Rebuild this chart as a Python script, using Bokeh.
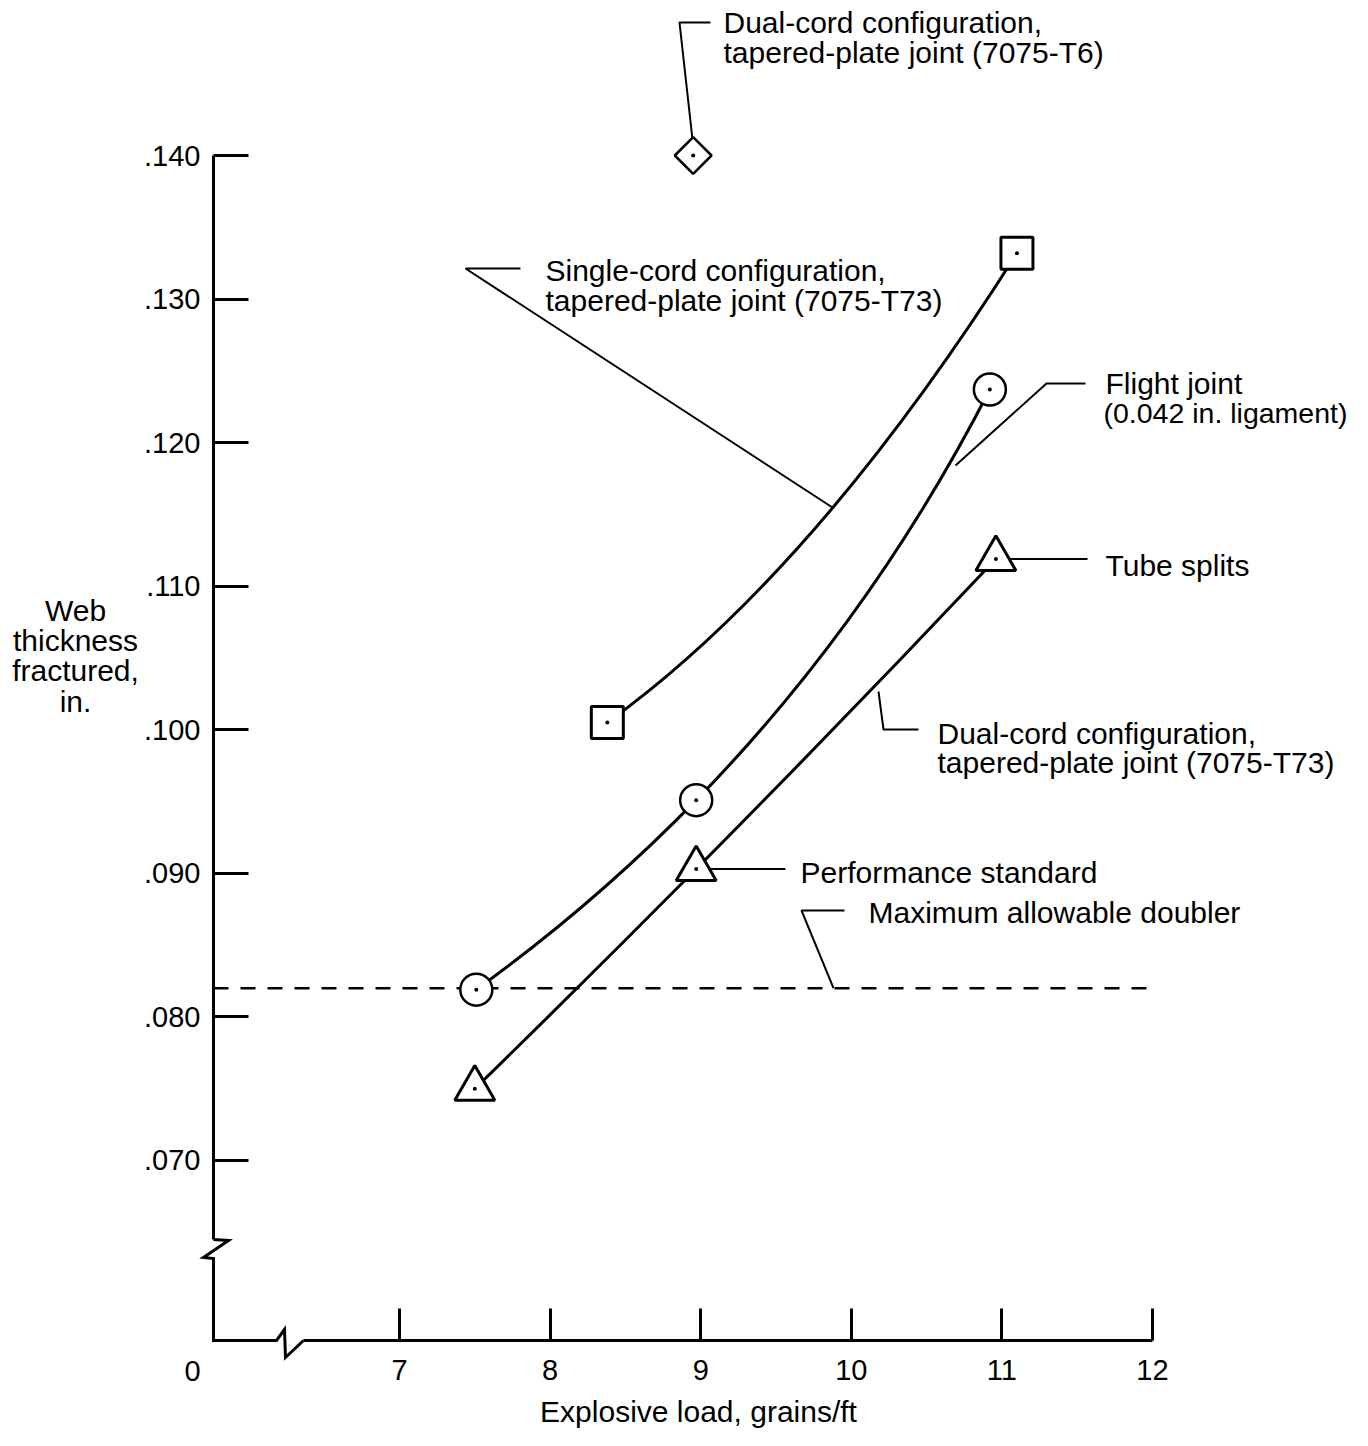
import math
from bokeh.plotting import figure
from bokeh.models import Range1d, LinearAxis, FixedTicker, AllLabels, CustomJSTickFormatter
from bokeh.core.properties import value
from bokeh.embed import file_html
from bokeh.resources import INLINE

# ---------------- data ----------------
x_ticks = [7, 8, 9, 10, 11, 12]
x_tick_labels = ["7", "8", "9", "10", "11", "12"]
y_ticks = [0.070, 0.080, 0.090, 0.100, 0.110, 0.120, 0.130, 0.140]
y_tick_labels = [".070", ".080", ".090", ".100", ".110", ".120", ".130", ".140"]

# Single-cord configuration, tapered-plate joint (7075-T73)  (squares)
single_t73_x = [8.38, 11.10]
single_t73_y = [0.1005, 0.1332]
# Flight joint (0.042 in. ligament)  (circles)
flight_x = [7.51, 8.97, 10.92]
flight_y = [0.0819, 0.0951, 0.1237]
# Dual-cord configuration, tapered-plate joint (7075-T73)  (triangles)
dual_t73_x = [7.50, 8.97, 10.96]
dual_t73_y = [0.0750, 0.0903, 0.1119]
# Dual-cord configuration, tapered-plate joint (7075-T6)  (diamond)
dual_t6_x = [8.95]
dual_t6_y = [0.1400]
# Maximum allowable doubler
doubler_y = 0.082
doubler_x_end = 12

# ---------------- layout calibration (picture pixels) ----------------
W, H = 1352, 1430
PX7, PXU = 399.0, 150.6       # pixel x of x=7, px per unit
PY14, PYU = 155.0, 14357.0    # pixel y of y=.140, px per unit


def X(px):
    return 7 + (px - PX7) / PXU


def Y(py):
    return 0.14 - (py - PY14) / PYU


def to_px(x):
    return PX7 + (x - 7) * PXU


def to_py(y):
    return PY14 + (0.14 - y) * PYU


p = figure(width=W, height=H, x_range=Range1d(X(0), X(W)),
           y_range=Range1d(Y(H), Y(0)), x_axis_type=None, y_axis_type=None,
           output_backend="svg", toolbar_location=None, min_border=0)
p.outline_line_color = None
p.background_fill_color = "white"
p.border_fill_color = "white"

FONT = value("Liberation Sans")
AX_X = X(213)
AX_Y = Y(1340)

# ---------------- axes ----------------
yfmt = CustomJSTickFormatter(args=dict(tv=y_ticks, tl=y_tick_labels), code="""
for (let i = 0; i < tv.length; i++) { if (Math.abs(tv[i] - tick) < 1e-9) return tl[i]; }
return "";
""")
xfmt = CustomJSTickFormatter(args=dict(tv=x_ticks, tl=x_tick_labels), code="""
for (let i = 0; i < tv.length; i++) { if (Math.abs(tv[i] - tick) < 1e-9) return tl[i]; }
return "";
""")

yaxis = LinearAxis(fixed_location=AX_X, bounds=(Y(1239), 0.140),
                   ticker=FixedTicker(ticks=y_ticks, minor_ticks=[]), formatter=yfmt,
                   major_label_policy=AllLabels())
xaxis = LinearAxis(fixed_location=AX_Y, bounds=(X(303), 12),
                   ticker=FixedTicker(ticks=x_ticks, minor_ticks=[]), formatter=xfmt,
                   major_label_policy=AllLabels())
for ax, tick_in, stand in ((yaxis, 35, 13), (xaxis, 32, 19)):
    ax.axis_line_width = 3
    ax.axis_line_color = "black"
    ax.major_tick_line_width = 3
    ax.major_tick_line_color = "black"
    ax.major_tick_in = tick_in
    ax.major_tick_out = 0
    ax.minor_tick_line_color = None
    ax.major_label_text_font = "Liberation Sans"
    ax.major_label_text_font_size = "29px"
    ax.major_label_text_color = "black"
    ax.major_label_standoff = stand
p.add_layout(yaxis, "left")
p.add_layout(xaxis, "below")

# axis break decorations
brk = [(213, 1239), (228, 1240), (203, 1257), (213, 1258), (213, 1340),
       (276, 1340), (284, 1329), (285, 1357), (303, 1340)]
p.line([X(a) for a, b in brk], [Y(b) for a, b in brk], line_color="black",
       line_width=3, line_join="miter")

# ---------------- dashed doubler line ----------------
p.line([AX_X, doubler_x_end], [doubler_y, doubler_y], line_color="black",
       line_width=2.5, line_dash="15 12")


# ---------------- smooth curves ----------------
def smooth_segments(xs, ys):
    P = [(to_px(x), to_py(y)) for x, y in zip(xs, ys)]
    (x0, y0), (x1, y1), (x2, y2) = P
    d0 = math.hypot(x1 - x0, y1 - y0)
    d1 = math.hypot(x2 - x1, y2 - y1)
    u0 = ((x1 - x0) / d0, (y1 - y0) / d0)
    u1 = ((x2 - x1) / d1, (y2 - y1) / d1)
    m1 = ((d1 * u0[0] + d0 * u1[0]) / (d0 + d1), (d1 * u0[1] + d0 * u1[1]) / (d0 + d1))
    m0 = (2 * u0[0] - m1[0], 2 * u0[1] - m1[1])
    m2 = (2 * u1[0] - m1[0], 2 * u1[1] - m1[1])
    segs = [
        ((x0, y0), (x0 + m0[0] * d0 / 3, y0 + m0[1] * d0 / 3), (x1 - m1[0] * d0 / 3, y1 - m1[1] * d0 / 3), (x1, y1)),
        ((x1, y1), (x1 + m1[0] * d1 / 3, y1 + m1[1] * d1 / 3), (x2 - m2[0] * d1 / 3, y2 - m2[1] * d1 / 3), (x2, y2)),
    ]
    out = dict(x0=[], y0=[], x1=[], y1=[], cx0=[], cy0=[], cx1=[], cy1=[])
    for a, c0, c1, b in segs:
        out["x0"].append(X(a[0])); out["y0"].append(Y(a[1]))
        out["cx0"].append(X(c0[0])); out["cy0"].append(Y(c0[1]))
        out["cx1"].append(X(c1[0])); out["cy1"].append(Y(c1[1]))
        out["x1"].append(X(b[0])); out["y1"].append(Y(b[1]))
    return out


for xs, ys in ((flight_x, flight_y), (dual_t73_x, dual_t73_y)):
    s = smooth_segments(xs, ys)
    p.bezier(x0=s["x0"], y0=s["y0"], x1=s["x1"], y1=s["y1"],
             cx0=s["cx0"], cy0=s["cy0"], cx1=s["cx1"], cy1=s["cy1"],
             line_color="black", line_width=3)

# two-point single-cord curve: quadratic with a bend (style)
BEND = (0.505, 0.318)
sx0, sx1 = single_t73_x
sy0, sy1 = single_t73_y
p.quadratic(x0=[sx0], y0=[sy0], x1=[sx1], y1=[sy1],
            cx=[sx0 + BEND[0] * (sx1 - sx0)], cy=[sy0 + BEND[1] * (sy1 - sy0)],
            line_color="black", line_width=3)

# ---------------- leader lines ----------------
leaders_px = [
    [(710, 22), (679, 22), (692, 139)],
    [(520, 268), (465, 268), (832, 507)],
    [(1085, 383), (1046, 383), (955, 465)],
    [(918, 729), (883, 729), (878, 691)],
    [(844, 910), (801, 910), (833, to_py(doubler_y))],
]
lx = [[X(a) for a, b in L] for L in leaders_px]
ly = [[Y(b) for a, b in L] for L in leaders_px]
# Tube splits / Performance standard leaders start at their data points
lx.append([dual_t73_x[2], X(1087)]); ly.append([dual_t73_y[2], dual_t73_y[2]])
lx.append([dual_t73_x[1], X(785)]); ly.append([dual_t73_y[1], dual_t73_y[1]])
p.multi_line(lx, ly, line_color="black", line_width=2)

# ---------------- markers ----------------
p.scatter(single_t73_x, single_t73_y, marker="square", size=32, fill_color="white",
          line_color="black", line_width=3)
p.scatter(flight_x, flight_y, marker="circle", size=32, fill_color="white",
          line_color="black", line_width=2.5)
p.scatter(dual_t73_x, dual_t73_y, marker="triangle", size=40, fill_color="white",
          line_color="black", line_width=3)
p.scatter(dual_t6_x, dual_t6_y, marker="square", size=26, angle=math.pi / 4,
          fill_color="white", line_color="black", line_width=2.5)
all_x = single_t73_x + flight_x + dual_t73_x + dual_t6_x
all_y = single_t73_y + flight_y + dual_t73_y + dual_t6_y
p.scatter(all_x, all_y, marker="circle", size=4, fill_color="black", line_color=None)

# ---------------- texts ----------------
ann_text = ["Dual-cord configuration,", "tapered-plate joint (7075-T6)",
            "Single-cord configuration,", "tapered-plate joint (7075-T73)",
            "Flight joint",
            "Tube splits",
            "Dual-cord configuration,", "tapered-plate joint (7075-T73)",
            "Performance standard",
            "Maximum allowable doubler"]
ann_pos = [(723, 22), (723, 52), (545, 270), (545, 300), (1105, 383),
           (1105, 565), (937, 733), (937, 762), (800, 872), (868, 912)]
p.text([X(a) for a, b in ann_pos], [Y(b) for a, b in ann_pos], text=ann_text,
       text_font=FONT, text_font_size=value("30px"), text_color="black",
       text_align="left", text_baseline="middle")
# the widest line sits at the right edge: a touch smaller so it fits
p.text([X(1103)], [Y(412)], text=["(0.042 in. ligament)"],
       text_font=FONT, text_font_size=value("28.5px"), text_color="black",
       text_align="left", text_baseline="middle")

ytitle = ["Web", "thickness", "fractured,", "in."]
ytitle_pos = [(75, 610), (75, 640), (75, 670), (75, 701)]
p.text([X(a) for a, b in ytitle_pos], [Y(b) for a, b in ytitle_pos], text=ytitle,
       text_font=FONT, text_font_size=value("30px"), text_color="black",
       text_align="center", text_baseline="middle")

p.text([X(698)], [Y(1411)], text=["Explosive load, grains/ft"],
       text_font=FONT, text_font_size=value("30px"), text_color="black",
       text_align="center", text_baseline="middle")
p.text([X(192)], [Y(1370)], text=["0"],
       text_font=FONT, text_font_size=value("29px"), text_color="black",
       text_align="center", text_baseline="middle")

open("out.html", "w").write(file_html(p, INLINE))
